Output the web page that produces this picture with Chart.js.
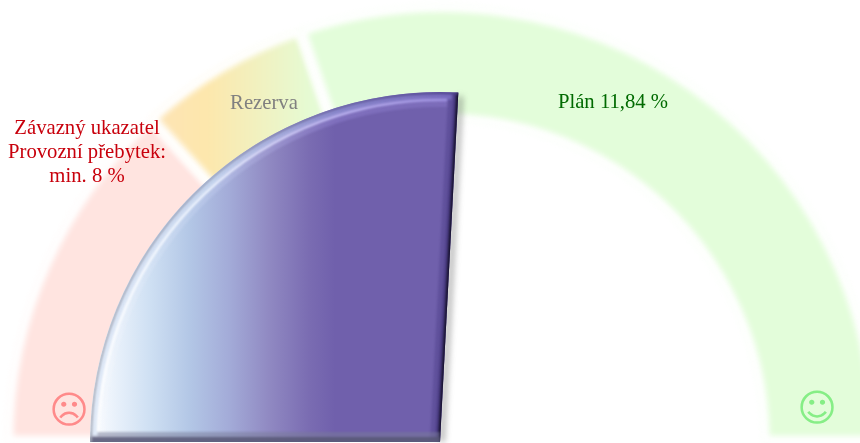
<!DOCTYPE html>
<html>
<head>
<meta charset="utf-8">
<script src="https://cdn.jsdelivr.net/npm/chart.js@4"></script>
<style>
  html, body { margin: 0; padding: 0; background: #fff; }
  #wrap { position: relative; width: 860px; height: 443px; overflow: hidden; }
  #wrap canvas { position: absolute; }
  .label { position: absolute; font-family: "Liberation Serif", serif; font-size: 20.7px; line-height: 24px; text-align: center; white-space: nowrap; transform: translateX(-50%); }
  .face { position: absolute; font-family: "DejaVu Sans", sans-serif; font-size: 38px; line-height: 44px; transform: translateX(-50%); }
</style>
</head>
<body>
<div id="wrap">
  <canvas id="bands"></canvas>
  <canvas id="needle"></canvas>
  <div class="label" style="left:87px;top:115px;color:#c8000c">Závazný ukazatel<br>Provozní přebytek:<br>min. 8 %</div>
  <div class="label" style="left:264px;top:90px;color:#808080">Rezerva</div>
  <div class="label" style="left:613px;top:89px;color:#006a00">Plán 11,84 %</div>
  <div class="face" style="left:69px;top:388px;color:#ff8a8a">&#9785;</div>
  <div class="face" style="left:817px;top:386px;color:#86ee86">&#9786;</div>
</div>
<script>
// ========== Data ==========
const bandNames = ['Závazný ukazatel', 'Rezerva', 'Plán'];
const bandValues = [8, 3.84, 18.16];   // gauge runs 0 - 30
const needleValue = [15.5, 14.5];      // reading, rest of the half circle

// ========== Layout ==========
// a half doughnut sits half a radius below the middle of its canvas,
// so place the canvas to bring the hub where we want it
function setupCanvas(id, hubX, hubY, radius) {
  const c = document.getElementById(id);
  const size = radius * 2 + 20;
  c.style.left = (hubX - size / 2) + 'px';
  c.style.top = (hubY - size / 2 - radius / 2) + 'px';
  c.style.width = size + 'px';
  c.style.height = size + 'px';
  c.width = size;
  c.height = size;
  return c;
}

// ========== Bands ==========
const softEdges = {
  id: 'softEdges',
  beforeDatasetsDraw(chart) { chart.ctx.save(); chart.ctx.filter = 'blur(3px)'; },
  afterDatasetsDraw(chart) { chart.ctx.restore(); }
};

const bandColors = ['#ffe4e0', null, '#e3fdda'];

function bandFill(ctx) {
  if (bandColors[ctx.dataIndex]) return bandColors[ctx.dataIndex];
  const mid = ctx.chart.width / 2;
  const g = ctx.chart.ctx.createLinearGradient(mid - 280, 0, mid - 130, 0);
  g.addColorStop(0, '#fde4b4');
  g.addColorStop(0.3, '#fde7ac');
  g.addColorStop(1, '#e5fbd4');
  return g;
}

new Chart(setupCanvas('bands', 442, 441, 434), {
  type: 'doughnut',
  data: {
    labels: bandNames,
    datasets: [{
      data: bandValues,
      backgroundColor: bandFill,
      borderColor: '#ffffff',
      borderWidth: 10,
      hoverOffset: 0
    }]
  },
  options: {
    responsive: false,
    animation: false,
    rotation: -90,
    circumference: 180,
    cutout: 326,
    radius: 434,
    layout: { padding: 0 },
    plugins: { legend: { display: false }, tooltip: { enabled: false } }
  },
  plugins: [softEdges]
});

// ========== Needle ==========
function needleFill(ctx) {
  if (ctx.dataIndex !== 0) return 'rgba(0,0,0,0)';
  const mid = ctx.chart.width / 2;
  const g = ctx.chart.ctx.createLinearGradient(mid - 340, 0, mid - 105, 0);
  g.addColorStop(0, '#f5f9fe');
  g.addColorStop(0.21, '#cfe0f3');
  g.addColorStop(0.38, '#b3c7e6');
  g.addColorStop(0.55, '#a3abd8');
  g.addColorStop(0.72, '#9089c2');
  g.addColorStop(0.89, '#7a6cb2');
  g.addColorStop(1, '#7060ac');
  return g;
}

function arcProps(chart) {
  const arc = chart.getDatasetMeta(0).data[0];
  return arc.getProps(['x', 'y', 'startAngle', 'endAngle', 'outerRadius'], true);
}

// bevel round the filled slice, worked out from the arc element
const bevel = {
  id: 'bevel',
  afterDatasetsDraw(chart) {
    const { x, y, startAngle, endAngle, outerRadius: r } = arcProps(chart);
    const ctx = chart.ctx;
    ctx.save();
    ctx.beginPath();
    ctx.moveTo(x, y);
    ctx.arc(x, y, r, startAngle, endAngle);
    ctx.closePath();
    ctx.clip();

    const ex = x + r * Math.cos(endAngle), ey = y + r * Math.sin(endAngle);
    const sx = x + r * Math.cos(startAngle);
    const inset = 11 / r;

    function line(ax, ay, bx, by, color, width) {
      ctx.strokeStyle = color;
      ctx.lineWidth = width;
      ctx.beginPath(); ctx.moveTo(ax, ay); ctx.lineTo(bx, by); ctx.stroke();
    }
    function rim(radius, color, width, cut) {
      ctx.strokeStyle = color;
      ctx.lineWidth = width;
      ctx.beginPath(); ctx.arc(x, y, radius, startAngle + cut, endAngle - cut); ctx.stroke();
    }
    function across(stops) {
      const g = ctx.createLinearGradient(sx, 0, ex, 0);
      stops.forEach((c, i) => g.addColorStop(i / (stops.length - 1), c));
      return g;
    }

    ctx.filter = 'blur(0.8px)';

    // right edge, dark and fading into the fill
    line(x, y, ex, ey, 'rgba(60,45,120,0.3)', 20);
    line(x, y, ex, ey, 'rgba(50,38,105,0.45)', 10);
    line(x, y, ex, ey, '#17122e', 4);

    // bottom edge
    line(sx, y, x, y, 'rgba(120,122,150,0.5)', 20);
    line(sx, y, x, y, 'rgba(85,85,115,0.8)', 10);

    // outer rim
    rim(r - 4, across(['#e2ebf8', '#c3d2ec', '#8a88cc', '#7668bc']), 7, inset * 0.6);
    rim(r - 1, across(['#a0a6b4', '#9aa3bc', '#6a66a4', '#4a3e88']), 2, 0);

    // highlight and its soft fall-off
    rim(r - 12, across(['rgba(255,255,255,0.2)', 'rgba(210,220,250,0.25)', 'rgba(150,135,215,0.4)', 'rgba(145,130,210,0.35)']), 6, inset);
    rim(r - 8, across(['#ffffff', '#eef4ff', '#c2baf6', '#a193e4']), 2.5, inset);
    ctx.restore();
  }
};

// soft shadow along the right edge, drawn before the slice
const edgeShadow = {
  id: 'edgeShadow',
  beforeDatasetsDraw(chart) {
    const { x, y, endAngle, outerRadius: r } = arcProps(chart);
    const ctx = chart.ctx;
    ctx.save();
    ctx.filter = 'blur(3px)';
    ctx.strokeStyle = 'rgba(70,70,70,0.45)';
    ctx.lineWidth = 5;
    ctx.beginPath();
    ctx.moveTo(x + 2, y);
    ctx.lineTo(x + 2 + r * Math.cos(endAngle), y + r * Math.sin(endAngle) + 4);
    ctx.stroke();
    ctx.restore();
  }
};

new Chart(setupCanvas('needle', 440, 442, 350), {
  type: 'pie',
  data: {
    datasets: [{
      data: needleValue,
      backgroundColor: needleFill,
      borderWidth: 0,
      hoverOffset: 0
    }]
  },
  options: {
    responsive: false,
    animation: false,
    rotation: -90,
    circumference: 180,
    radius: 350,
    layout: { padding: 0 },
    plugins: { legend: { display: false }, tooltip: { enabled: false } }
  },
  plugins: [edgeShadow, bevel]
});
</script>
</body>
</html>
